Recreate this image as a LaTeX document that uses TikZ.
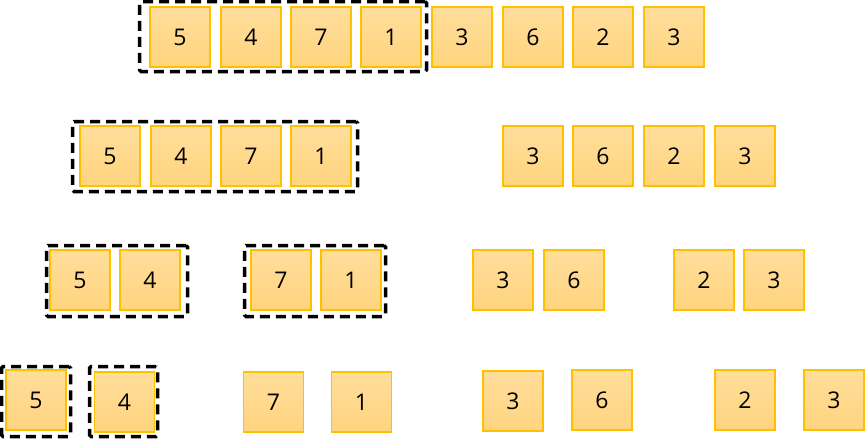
\documentclass[tikz,border=0pt]{standalone}
\usepackage{fontspec}
\setmainfont{Open Sans}
\definecolor{cellborder}{RGB}{255,192,0}
\definecolor{celltop}{RGB}{255,221,155}
\definecolor{cellbot}{RGB}{255,212,126}
\tikzset{
  cell/.style={draw=cellborder, line width=1.2pt, top color=celltop, bottom color=cellbot,
    minimum width=60pt, minimum height=60pt, inner sep=0pt, font=\fontsize{23}{27}\selectfont, text=black},
  dbox/.style={draw=black, line width=3.5pt, dash pattern=on 10pt off 6pt, rounded corners=1.5pt,
    inner sep=0pt, fill=none},
}
\begin{document}
\begin{tikzpicture}[x=1pt,y=-1pt]
\useasboundingbox (0,0) rectangle (865,440);
% dashed groups
\node[dbox, minimum width=287pt, minimum height=70pt] (g1) at (283,36.5) {};
\node[dbox, minimum width=285pt, minimum height=70pt] (g2) at (215,156.5) {};
\node[dbox, minimum width=141pt, minimum height=71pt] (g3a) at (117,281) {};
\node[dbox, minimum width=141pt, minimum height=71pt] (g3b) at (315,281) {};
\node[dbox, minimum width=69pt, minimum height=70pt] (g4a) at (36,401.5) {};
\node[dbox, minimum width=68pt, minimum height=70pt] (g4b) at (123.5,401.5) {};
% row 1
\node[cell] (r1a) at (180,37) {5};
\node[cell] (r1b) at (251,37) {4};
\node[cell] (r1c) at (321,37) {7};
\node[cell] (r1d) at (391,37) {1};
\node[cell] (r1e) at (462,37) {3};
\node[cell] (r1f) at (533,37) {6};
\node[cell] (r1g) at (603,37) {2};
\node[cell] (r1h) at (674,37) {3};
% row 2
\node[cell] (r2a) at (110,156) {5};
\node[cell] (r2b) at (181,156) {4};
\node[cell] (r2c) at (251,156) {7};
\node[cell] (r2d) at (321,156) {1};
\node[cell] (r2e) at (533,156) {3};
\node[cell] (r2f) at (603,156) {6};
\node[cell] (r2g) at (674,156) {2};
\node[cell] (r2h) at (745,156) {3};
% row 3
\node[cell] (r3a) at (80,280) {5};
\node[cell] (r3b) at (150,280) {4};
\node[cell] (r3c) at (281,280) {7};
\node[cell] (r3d) at (351,280) {1};
\node[cell] (r3e) at (503,280) {3};
\node[cell] (r3f) at (574,280) {6};
\node[cell] (r3g) at (704,280) {2};
\node[cell] (r3h) at (774,280) {3};
% row 4
\node[cell] (r4a) at (36,400) {5};
\node[cell] (r4b) at (124.5,402) {4};
\node[cell] (r4c) at (273.5,402) {7};
\node[cell] (r4d) at (361.5,402) {1};
\node[cell] (r4e) at (513,401) {3};
\node[cell] (r4f) at (602,400) {6};
\node[cell] (r4g) at (745,400) {2};
\node[cell] (r4h) at (834,400) {3};
\end{tikzpicture}
\end{document}
